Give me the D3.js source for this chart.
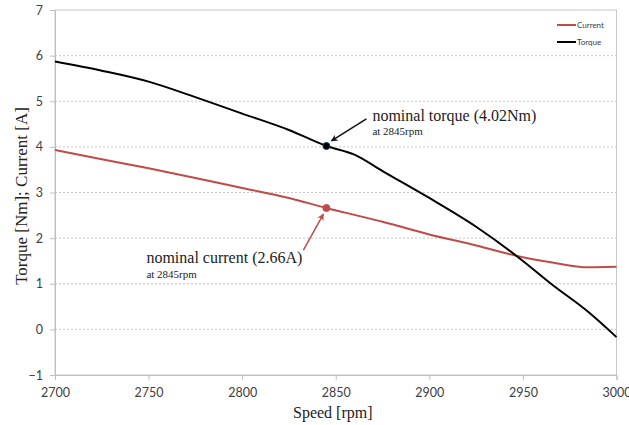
<!DOCTYPE html>
<html>
<head>
<meta charset="utf-8">
<script src="https://cdn.jsdelivr.net/npm/d3@7"></script>
<style>
  html, body { margin: 0; padding: 0; background: #fff; }
  svg { display: block; }
</style>
</head>
<body>
<svg id="chart" width="629" height="425"></svg>
<script>
// Motor characteristic: torque and current against shaft speed
const speeds   = [2700, 2725, 2750, 2775, 2800, 2825, 2845, 2860, 2875, 2900, 2925, 2950, 2965, 2985, 3000];
const torque   = [5.87, 5.67, 5.43, 5.09, 4.73, 4.37, 4.02, 3.83, 3.47, 2.88, 2.25, 1.50, 1.00, 0.38, -0.17];
const current  = [3.93, 3.73, 3.53, 3.32, 3.10, 2.88, 2.66, 2.51, 2.36, 2.08, 1.84, 1.58, 1.47, 1.36, 1.37];
const xTicks   = [2700, 2750, 2800, 2850, 2900, 2950, 3000];
const yTicks   = [-1, 0, 1, 2, 3, 4, 5, 6, 7];
const seriesNames = ["Current", "Torque"];
const nominalSpeed = 2845;
const nominalTorque = 4.02;
const nominalCurrent = 2.66;

const W = 629, H = 425;
const margin = { top: 10, right: 12.5, bottom: 50, left: 55 };
const iw = W - margin.left - margin.right;
const ih = H - margin.top - margin.bottom;

const red = "#be4b48", black = "#000000";
const tickFont = "Lato, 'Open Sans', sans-serif";
const serif = "'Liberation Serif', 'Times New Roman', serif";

const svg = d3.select("#chart");
const g = svg.append("g").attr("transform", `translate(${margin.left},${margin.top})`);

const x = d3.scaleLinear().domain([2700, 3000]).range([0, iw]);
const y = d3.scaleLinear().domain([-1, 7]).range([ih, 0]);

// dotted horizontal gridlines
g.append("g").selectAll("line")
  .data(yTicks.filter(v => v > -1 && v < 7))
  .join("line")
  .attr("x1", 0).attr("x2", iw)
  .attr("y1", d => y(d)).attr("y2", d => y(d))
  .attr("stroke", "#c8c8c8").attr("stroke-width", 1)
  .attr("stroke-dasharray", "2,2");

// plot frame
g.append("rect")
  .attr("x", 0).attr("y", 0).attr("width", iw).attr("height", ih)
  .attr("fill", "none").attr("stroke", "#c8c8c8").attr("stroke-width", 1);

// axes
const xAxis = g.append("g").attr("transform", `translate(0,${ih})`)
  .call(d3.axisBottom(x).tickValues(xTicks).tickSize(5).tickPadding(8).tickFormat(d3.format("d")));
const yAxis = g.append("g")
  .call(d3.axisLeft(y).tickValues(yTicks).tickSize(5).tickPadding(7).tickFormat(d3.format("d")));
[xAxis, yAxis].forEach(a => {
  a.select(".domain").attr("stroke", "#bfbfbf");
  a.selectAll(".tick line").attr("stroke", "#bfbfbf");
  a.selectAll(".tick text").attr("fill", "#404040")
    .style("font-family", tickFont).style("font-size", "12.5px");
});

// curves
const line = d3.line().curve(d3.curveMonotoneX)
  .x(d => x(d[0])).y(d => y(d[1]));
const currentPts = speeds.map((s, i) => [s, current[i]]);
const torquePts = speeds.map((s, i) => [s, torque[i]]);

g.append("path").datum(currentPts)
  .attr("d", line).attr("fill", "none").attr("stroke", red).attr("stroke-width", 2);
g.append("path").datum(torquePts)
  .attr("d", line).attr("fill", "none").attr("stroke", black).attr("stroke-width", 2);

// arrow heads
const defs = svg.append("defs");
[["arrowBlack", "#111"], ["arrowRed", red]].forEach(([id, col]) => {
  defs.append("marker").attr("id", id)
    .attr("viewBox", "0 0 10 10").attr("refX", 9).attr("refY", 5)
    .attr("markerWidth", 9).attr("markerHeight", 7).attr("markerUnits", "userSpaceOnUse")
    .attr("orient", "auto")
    .append("path").attr("d", "M0,0 L10,5 L0,10 L3,5 Z").attr("fill", col);
});

// nominal torque annotation
const tx = x(nominalSpeed), ty = y(nominalTorque);
g.append("line")
  .attr("x1", tx + 40).attr("y1", ty - 27).attr("x2", tx + 5).attr("y2", ty - 5)
  .attr("stroke", "#111").attr("stroke-width", 1.5).attr("marker-end", "url(#arrowBlack)");
g.append("circle").attr("cx", tx).attr("cy", ty).attr("r", 3.5)
  .attr("fill", "#000").attr("stroke", "#1f3864").attr("stroke-width", 1);
g.append("text").attr("x", tx + 46).attr("y", ty - 25)
  .style("font-family", serif).style("font-size", "16px").attr("fill", "#222")
  .text(`nominal torque (${nominalTorque.toFixed(2)}Nm)`);
g.append("text").attr("x", tx + 46).attr("y", ty - 11)
  .style("font-family", serif).style("font-size", "11px").attr("fill", "#222")
  .text(`at ${nominalSpeed}rpm`);

// nominal current annotation
const cx = x(nominalSpeed), cy = y(nominalCurrent);
g.append("line")
  .attr("x1", cx - 23).attr("y1", cy + 42).attr("x2", cx - 3).attr("y2", cy + 6)
  .attr("stroke", red).attr("stroke-width", 1.5).attr("marker-end", "url(#arrowRed)");
g.append("circle").attr("cx", cx).attr("cy", cy).attr("r", 3.5)
  .attr("fill", red).attr("stroke", red).attr("stroke-width", 1);
g.append("text").attr("x", cx - 180).attr("y", cy + 55)
  .style("font-family", serif).style("font-size", "16px").attr("fill", "#222")
  .text(`nominal current (${nominalCurrent.toFixed(2)}A)`);
g.append("text").attr("x", cx - 180).attr("y", cy + 70)
  .style("font-family", serif).style("font-size", "11px").attr("fill", "#222")
  .text(`at ${nominalSpeed}rpm`);

// axis titles
svg.append("text")
  .attr("x", margin.left + iw / 2 - 3).attr("y", 418)
  .attr("text-anchor", "middle")
  .style("font-family", serif).style("font-size", "16px").attr("fill", "#222")
  .text("Speed [rpm]");
svg.append("text")
  .attr("transform", `translate(27,${margin.top + 186}) rotate(-90)`)
  .attr("text-anchor", "middle")
  .style("font-family", serif).style("font-size", "17px").attr("fill", "#222")
  .text("Torque [Nm]; Current [A]");

// legend
const legend = svg.append("g").attr("transform", "translate(557,25)");
const legendColors = [red, black];
seriesNames.forEach((name, i) => {
  const row = legend.append("g").attr("transform", `translate(0,${i * 17})`);
  row.append("line").attr("x1", 0).attr("x2", 19).attr("y1", 0).attr("y2", 0)
    .attr("stroke", legendColors[i]).attr("stroke-width", 2);
  row.append("text").attr("x", 20).attr("y", 3)
    .style("font-family", tickFont).style("font-size", "8px").attr("fill", "#404040")
    .text(name);
});
</script>
</body>
</html>
